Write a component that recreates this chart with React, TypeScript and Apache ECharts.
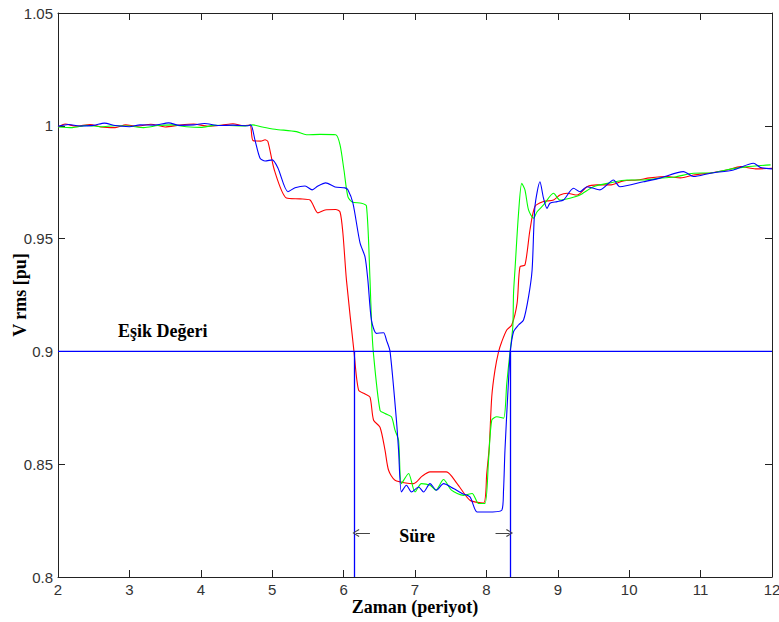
import React, { useEffect, useRef } from "react";
import * as echarts from "echarts";

const xTicks = [2, 12, 1];
const yTicks = [0.8, 1.05, 0.05];
const threshold = 0.9;
const crossings = [6.145, 8.336];
const xTitle = "Zaman (periyot)";
const yTitle = "V rms [pu]";
const thresholdLabel = "Eşik Değeri";
const durationLabel = "Süre";
const durationLabelPos = [7.03, 0.8181];
const thresholdLabelPos = [2.84, 0.909];
const arrowY = 0.8195;
const leftArrow = [6.173, 6.369];
const rightArrow = [8.324, 8.128];

const red: number[][] = [
  [2.0, 0.9995], [2.1, 1.0008], [2.25, 0.9998], [2.45, 1.0006], [2.6, 0.9995], [2.8, 0.9992], [2.95, 1.0004],
  [3.1, 0.9998], [3.3, 1.0007], [3.5, 0.9995], [3.7, 1.0003], [3.9, 1.0008], [4.1, 0.9998], [4.3, 1.0003],
  [4.45, 1.0009], [4.6, 1.0001], [4.69, 1.0003], [4.73, 0.9935], [4.84, 0.9932], [4.9, 0.9938], [4.94, 0.993],
  [5.03, 0.9804], [5.2, 0.968], [5.39, 0.9676], [5.53, 0.9671], [5.64, 0.9614], [5.74, 0.9627], [5.89, 0.9629],
  [5.95, 0.9618], [5.99, 0.9525], [6.04, 0.9316], [6.145, 0.9001], [6.21, 0.8828], [6.3, 0.8811], [6.37, 0.8797],
  [6.42, 0.8695], [6.51, 0.8664], [6.58, 0.8562], [6.63, 0.8473], [6.72, 0.8429], [6.98, 0.8414], [7.1, 0.8447],
  [7.21, 0.8466], [7.44, 0.8466], [7.59, 0.8414], [7.77, 0.834], [7.96, 0.8328], [8.005, 0.846], [8.04, 0.8577],
  [8.075, 0.8799], [8.12, 0.8917], [8.17, 0.8998], [8.215, 0.9043], [8.285, 0.9095], [8.355, 0.9117],
  [8.43, 0.9214], [8.47, 0.9375], [8.54, 0.9383], [8.61, 0.9538], [8.68, 0.9642], [8.8, 0.9664], [8.94, 0.9671],
  [9.03, 0.9693], [9.13, 0.9701], [9.27, 0.9693], [9.41, 0.973], [9.55, 0.9738], [9.73, 0.9738], [9.92, 0.9756],
  [10.11, 0.976], [10.29, 0.9769], [10.53, 0.9775], [10.72, 0.9769], [10.9, 0.9782], [11.14, 0.9791],
  [11.37, 0.9804], [11.56, 0.9819], [11.77, 0.9809], [12.0, 0.9812],
];

const green: number[][] = [
  [2.0, 0.9995], [2.2, 0.9992], [2.4, 1.0002], [2.6, 0.9996], [2.8, 1.0], [3.0, 0.9999], [3.2, 0.9992],
  [3.4, 1.0001], [3.6, 1.0004], [3.8, 0.9996], [4.0, 0.9993], [4.2, 1.0002], [4.4, 1.0001], [4.6, 0.9999],
  [4.73, 1.0004], [4.86, 0.9995], [5.04, 0.9985], [5.34, 0.9974], [5.48, 0.996], [5.67, 0.9962], [5.89, 0.996],
  [5.95, 0.9915], [6.005, 0.9804], [6.06, 0.9686], [6.12, 0.9662], [6.25, 0.9657], [6.32, 0.9645],
  [6.37, 0.9316], [6.39, 0.9139], [6.415, 0.9001], [6.51, 0.8739], [6.58, 0.8725], [6.67, 0.871], [6.72, 0.8651],
  [6.77, 0.8606], [6.81, 0.8414], [6.91, 0.8459], [7.0, 0.8377], [7.09, 0.8414], [7.21, 0.8407], [7.29, 0.8385],
  [7.4, 0.8432], [7.51, 0.8385], [7.68, 0.8362], [7.8, 0.837], [7.89, 0.8326], [7.98, 0.8326], [8.03, 0.8518],
  [8.075, 0.8695], [8.145, 0.871], [8.24, 0.8704], [8.285, 0.8858], [8.332, 0.9001], [8.37, 0.9109],
  [8.38, 0.9257], [8.4, 0.9361], [8.45, 0.9612], [8.495, 0.9745], [8.54, 0.9716], [8.59, 0.9627], [8.66, 0.959],
  [8.71, 0.9619], [8.8, 0.9649], [8.94, 0.9701], [9.03, 0.9671], [9.17, 0.9679], [9.31, 0.9693], [9.5, 0.973],
  [9.73, 0.9747], [9.97, 0.976], [10.22, 0.976], [10.43, 0.9768], [10.64, 0.9773], [10.9, 0.979], [11.14, 0.9791],
  [11.37, 0.9805], [11.63, 0.9818], [11.98, 0.9827],
];

const blue: number[][] = [
  [2.0, 0.9998], [2.15, 1.0006], [2.3, 0.9999], [2.5, 1.0002], [2.65, 1.0012], [2.8, 1.0001], [3.0, 0.9996],
  [3.15, 1.0004], [3.35, 1.0003], [3.55, 1.0013], [3.7, 1.0002], [3.9, 1.0004], [4.05, 1.001], [4.25, 1.0001],
  [4.45, 1.0003], [4.65, 1.0], [4.7, 1.0004], [4.76, 0.9935], [4.83, 0.9856], [4.9, 0.9844], [5.0, 0.9849],
  [5.08, 0.9813], [5.22, 0.9708], [5.32, 0.9725], [5.46, 0.9733], [5.56, 0.9716], [5.64, 0.9733], [5.75, 0.9747],
  [5.88, 0.9729], [6.02, 0.9725], [6.06, 0.9716], [6.13, 0.9658], [6.23, 0.9481], [6.3, 0.9419], [6.34, 0.9316],
  [6.39, 0.9139], [6.46, 0.908], [6.56, 0.9083], [6.6, 0.905], [6.65, 0.9001], [6.74, 0.8695], [6.77, 0.8562],
  [6.81, 0.8377], [6.88, 0.8407], [6.95, 0.8377], [7.05, 0.8399], [7.12, 0.8377], [7.21, 0.8414], [7.3, 0.8385],
  [7.4, 0.8414], [7.54, 0.8392], [7.66, 0.837], [7.77, 0.8355], [7.87, 0.8288], [8.0, 0.8288], [8.215, 0.8296],
  [8.24, 0.8385], [8.26, 0.8562], [8.31, 0.8873], [8.336, 0.9001], [8.38, 0.9087], [8.45, 0.9117], [8.52, 0.9139],
  [8.59, 0.9242], [8.64, 0.9361], [8.68, 0.9642], [8.75, 0.9752], [8.8, 0.9679], [8.85, 0.9634], [8.89, 0.9657],
  [8.99, 0.9664], [9.08, 0.9671], [9.22, 0.9723], [9.31, 0.9708], [9.41, 0.973], [9.59, 0.9716], [9.78, 0.976],
  [9.87, 0.973], [10.2, 0.9752], [10.43, 0.9768], [10.76, 0.9797], [10.9, 0.9775], [11.14, 0.979], [11.46, 0.9804],
  [11.74, 0.9834], [11.84, 0.9815], [12.0, 0.9809],
];

const serif = "'Liberation Serif', 'Times New Roman', serif";
const sans = "'Liberation Sans', Arial, sans-serif";
const arrowHead = "path://M5,0 L10,9 L8.8,10 L5,2.2 L1.2,10 L0,9 Z";

export default function App() {
  const ref = useRef<HTMLDivElement>(null);
  useEffect(() => {
    if (!ref.current) return;
    const chart = echarts.init(ref.current, null, { renderer: "svg" });
    const axisLine = { show: true, onZero: false, lineStyle: { color: "#222", width: 1 } };
    const tick = { show: true, inside: true, length: 7, lineStyle: { color: "#222" } };
    const lbl = { color: "#333", fontFamily: sans, fontSize: 15 };
    const curve = (name: string, color: string, data: number[][]) => ({
      name,
      type: "line",
      data,
      showSymbol: false,
      smooth: 0.25,
      lineStyle: { color, width: 1.1 },
      itemStyle: { color },
    });
    chart.setOption({
      animation: false,
      backgroundColor: "#fff",
      grid: { left: 58, top: 13, right: 7, bottom: 45, containLabel: false, outerBoundsMode: "none" },
      xAxis: [
        {
          type: "value", min: xTicks[0], max: xTicks[1], interval: xTicks[2],
          axisLine, axisTick: tick, splitLine: { show: false },
          axisLabel: { ...lbl, margin: 5 },
          name: xTitle, nameLocation: "middle", nameGap: 21, nameMoveOverlap: false,
          nameTextStyle: { fontFamily: serif, fontWeight: "bold", fontSize: 18, color: "#000" },
        },
        {
          type: "value", position: "top", min: xTicks[0], max: xTicks[1], interval: xTicks[2],
          axisLine, axisTick: tick, splitLine: { show: false }, axisLabel: { show: false },
        },
      ],
      yAxis: [
        {
          type: "value", min: yTicks[0], max: yTicks[1], interval: yTicks[2],
          axisLine, axisTick: tick, splitLine: { show: false },
          axisLabel: { ...lbl, margin: 5 },
          name: yTitle, nameLocation: "middle", nameGap: 29, nameMoveOverlap: false,
          nameTextStyle: { fontFamily: serif, fontWeight: "bold", fontSize: 18, color: "#000" },
        },
        {
          type: "value", position: "right", min: yTicks[0], max: yTicks[1], interval: yTicks[2],
          axisLine, axisTick: tick, splitLine: { show: false }, axisLabel: { show: false },
        },
      ],
      series: [
        curve("red", "#ff0000", red),
        curve("green", "#00ff00", green),
        curve("blue", "#0000ff", blue),
        {
          name: "threshold",
          type: "line",
          data: [[xTicks[0], threshold], [xTicks[1], threshold]],
          showSymbol: false,
          lineStyle: { color: "#0000ff", width: 1.3 },
          itemStyle: { color: "#0000ff" },
          markLine: {
            silent: true,
            symbol: ["none", "none"],
            label: { show: false },
            data: [
              ...crossings.map((c) => [
                { coord: [c, yTicks[0]], lineStyle: { color: "#0000ff", width: 1.3, type: "solid" } },
                { coord: [c, threshold] },
              ]),
              ...[leftArrow, rightArrow].map((a) => [
                { coord: [a[0], arrowY], symbol: arrowHead, symbolSize: [8, 7], lineStyle: { color: "#444", width: 1, type: "solid" } },
                { coord: [a[1], arrowY], symbol: "none" },
              ]),
            ],
          },
          markPoint: {
            silent: true,
            symbol: "circle",
            symbolSize: 0,
            data: [
              {
                coord: durationLabelPos,
                label: { show: true, position: "inside", formatter: durationLabel, fontFamily: serif, fontWeight: "bold", fontSize: 18, color: "#000" },
              },
              {
                coord: thresholdLabelPos,
                label: { show: true, position: "inside", align: "left", formatter: thresholdLabel, fontFamily: serif, fontWeight: "bold", fontSize: 18, color: "#000" },
              },
            ],
          },
        },
      ],
    });
    return () => chart.dispose();
  }, []);
  return (
    <div style={{ position: "fixed", left: 0, top: 0, width: 779, height: 622, background: "#fff" }}>
      <div ref={ref} style={{ width: 779, height: 622 }} />
    </div>
  );
}
